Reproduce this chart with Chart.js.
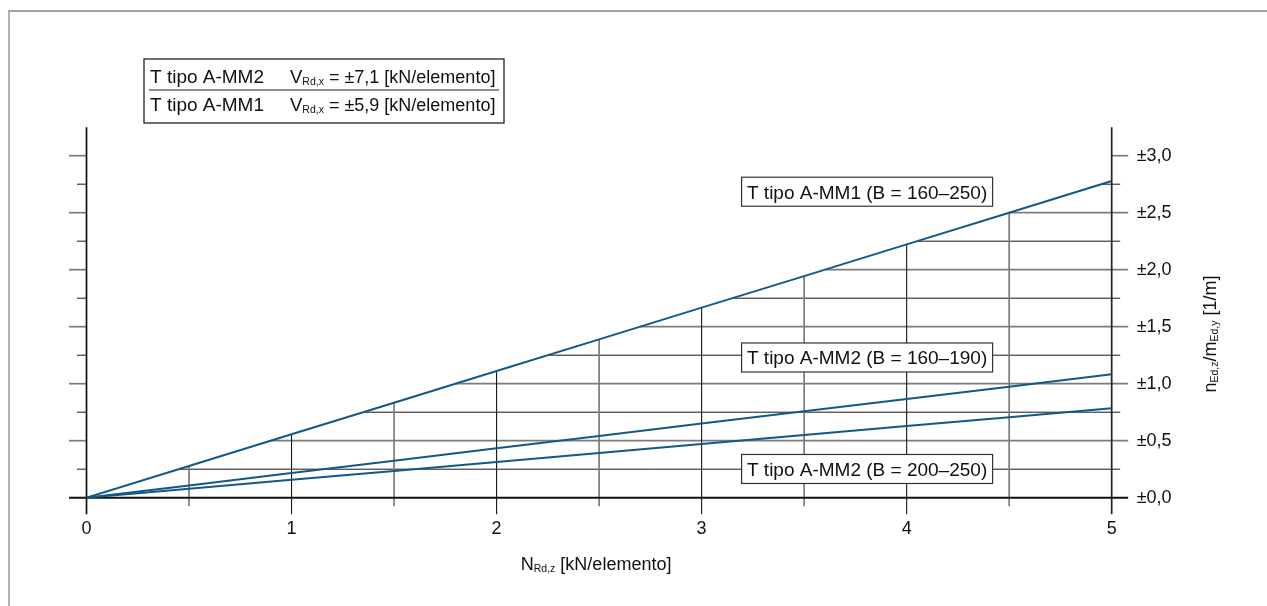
<!DOCTYPE html>
<html><head><meta charset="utf-8">
<script src="https://cdn.jsdelivr.net/npm/chart.js@4.4.1/dist/chart.umd.min.js"></script>
<style>
html,body{margin:0;padding:0;background:#fff;width:1267px;height:606px;overflow:hidden}
#wrap{position:relative;width:1267px;height:606px}
#frame{position:absolute;left:8px;top:10px;width:1300px;height:700px;border-top:2px solid #a3a3a3;border-left:2px solid #b3b3b3}
canvas{position:absolute;left:0;top:0}
</style></head><body>
<div id="wrap"><div id="frame"></div><canvas id="c" width="1267" height="606"></canvas></div>
<script>
// ---- data ----
const xValues = [0, 0.5, 1, 1.5, 2, 2.5, 3, 3.5, 4, 4.5, 5];
const seriesMM1 = [0, 0.278, 0.556, 0.833, 1.111, 1.389, 1.667, 1.944, 2.222, 2.500, 2.778];
const seriesMM2a = [0, 0.108, 0.217, 0.325, 0.433, 0.541, 0.650, 0.758, 0.866, 0.974, 1.083];
const seriesMM2b = [0, 0.078, 0.157, 0.235, 0.314, 0.392, 0.471, 0.549, 0.628, 0.706, 0.785];
const seriesNames = ['T tipo A-MM1 (B = 160–250)', 'T tipo A-MM2 (B = 160–190)', 'T tipo A-MM2 (B = 200–250)'];
const xTickLabels = ['0', '1', '2', '3', '4', '5'];
const yTickLabels = ['±0,0', '±0,5', '±1,0', '±1,5', '±2,0', '±2,5', '±3,0'];
const legendNames = ['T tipo A-MM2', 'T tipo A-MM1'];
const legendValues = ['±7,1', '±5,9'];

// ---- style / layout ----
const FONT = "'Liberation Sans', Arial, sans-serif";
const LINE_COLOR = '#125889';
const GRAY = '#7c7c7c', BLACK = '#151515';
const boxAnchorX = 3.807;
const boxAnchorY = [2.684, 1.23, 0.252];

function mm1CrossX(yv) {
  for (let i = 0; i < xValues.length - 1; i++) {
    const a = seriesMM1[i], b = seriesMM1[i + 1];
    if (yv >= a && yv <= b) {
      const t = (yv - a) / (b - a);
      return xValues[i] + t * (xValues[i + 1] - xValues[i]);
    }
  }
  return null;
}

function runsWidth(ctx, runs) {
  let w = 0;
  for (const r of runs) { ctx.font = r.size + 'px ' + FONT; w += ctx.measureText(r.t).width; }
  return w;
}
function drawRuns(ctx, x, y, runs) {
  let cx = x;
  ctx.textAlign = 'left'; ctx.textBaseline = 'alphabetic';
  for (const r of runs) {
    ctx.font = r.size + 'px ' + FONT;
    ctx.fillText(r.t, cx, y + (r.dy || 0));
    cx += ctx.measureText(r.t).width;
  }
  return cx - x;
}

const gridPlugin = {
  id: 'gridPlugin',
  beforeDatasetsDraw(chart) {
    const ctx = chart.ctx, xs = chart.scales.x, ys = chart.scales.y;
    const X = v => xs.getPixelForValue(v), Y = v => ys.getPixelForValue(v);
    const left = X(0), right = X(5), bottom = Y(0), top = Y(ys.max);
    const line = (x1, y1, x2, y2, c, w) => { ctx.beginPath(); ctx.strokeStyle = c; ctx.lineWidth = w; ctx.moveTo(x1, y1); ctx.lineTo(x2, y2); ctx.stroke(); };
    ctx.save();
    ctx.lineCap = 'butt';
    // horizontal lines every 0.25
    for (let k = 1; k <= 12; k++) {
      const yv = k * 0.25, major = k % 2 === 0, py = Y(yv);
      const c = major ? GRAY : BLACK, w = major ? 1.7 : 1;
      line(left - (major ? 17.5 : 9.5), py, left, py, c, w);
      const cx = mm1CrossX(yv);
      const sx = cx === null ? right : X(cx);
      line(sx, py, right + (major ? 16.5 : 8.5), py, c, w);
    }
    // vertical lines up to MM1 curve
    for (let i = 1; i < xValues.length - 1; i++) {
      const xv = xValues[i], major = Number.isInteger(xv), px = X(xv);
      const c = major ? BLACK : GRAY, w = major ? 1.1 : 1.7;
      line(px, bottom + (major ? 16.5 : 8.5), px, Y(seriesMM1[i]), c, w);
    }
    // axes
    line(left, bottom + 16.5, left, top, '#111', 1.7);
    line(right, bottom + 16.5, right, top, '#222', 1.7);
    line(left - 17.5, bottom, right + 16.5, bottom, '#111', 1.9);
    ctx.restore();
  },
  afterDatasetsDraw(chart) {
    const ctx = chart.ctx, xs = chart.scales.x, ys = chart.scales.y;
    ctx.save();
    const w = 251, h = 29;
    seriesNames.forEach((name, i) => {
      const cx = xs.getPixelForValue(boxAnchorX), cy = ys.getPixelForValue(boxAnchorY[i]);
      ctx.fillStyle = '#fff';
      ctx.fillRect(cx - w / 2, cy - h / 2, w, h);
      ctx.strokeStyle = '#333'; ctx.lineWidth = 1.2;
      ctx.strokeRect(cx - w / 2, cy - h / 2, w, h);
      ctx.fillStyle = '#111';
      ctx.font = '19px ' + FONT; ctx.textAlign = 'center'; ctx.textBaseline = 'alphabetic';
      ctx.fillText(name, cx, cy + 7);
    });
    ctx.restore();
  },
  afterDraw(chart) {
    const ctx = chart.ctx, ca = chart.chartArea;
    ctx.save();
    ctx.fillStyle = '#111';
    // x axis title
    const xr = [{t: 'N', size: 18}, {t: 'Rd,z', size: 10.5, dy: 2}, {t: ' [kN/elemento]', size: 18}];
    const xw = runsWidth(ctx, xr);
    drawRuns(ctx, (ca.left + ca.right) / 2 - 3 - xw / 2, 570, xr);
    // y axis title (rotated)
    const yr = [{t: 'n', size: 18}, {t: 'Ed,z', size: 10.5, dy: 2}, {t: '/m', size: 18}, {t: 'Ed,y', size: 10.5, dy: 2}, {t: ' [1/m]', size: 18}];
    const yw = runsWidth(ctx, yr);
    ctx.save();
    ctx.translate(1209, 334);
    ctx.rotate(-Math.PI / 2);
    drawRuns(ctx, -yw / 2, 6.5, yr);
    ctx.restore();
    // legend table
    const bx = 144, by = 59, bw = 360, bh = 64;
    ctx.strokeStyle = '#222'; ctx.lineWidth = 1.3;
    ctx.strokeRect(bx, by, bw, bh);
    ctx.beginPath(); ctx.moveTo(bx + 5, by + 31); ctx.lineTo(bx + bw - 5, by + 31); ctx.lineWidth = 1.2; ctx.stroke();
    const baselines = [82.5, 111];
    legendNames.forEach((n, i) => {
      drawRuns(ctx, bx + 6, baselines[i], [{t: n, size: 19}]);
      drawRuns(ctx, 290, baselines[i], [{t: 'V', size: 18.5}, {t: 'Rd,x', size: 10.5, dy: 2}, {t: ' = ' + legendValues[i] + ' [kN/elemento]', size: 18}]);
    });
    ctx.restore();
  }
};

const mk = arr => xValues.map((x, i) => ({x: x, y: arr[i]}));

new Chart(document.getElementById('c'), {
  type: 'line',
  data: {
    datasets: [
      {label: seriesNames[0], data: mk(seriesMM1)},
      {label: seriesNames[1], data: mk(seriesMM2a)},
      {label: seriesNames[2], data: mk(seriesMM2b)}
    ].map(d => Object.assign(d, {borderColor: LINE_COLOR, borderWidth: 2, pointRadius: 0, tension: 0, fill: false}))
  },
  options: {
    responsive: false,
    animation: false,
    layout: {padding: {left: 86.5, top: 127.2, right: 0, bottom: 0}},
    plugins: {legend: {display: false}, tooltip: {enabled: false}},
    scales: {
      x: {
        type: 'linear', min: 0, max: 5, position: 'bottom',
        grid: {display: false, drawTicks: false}, border: {display: false},
        ticks: {stepSize: 0.5, padding: 21, color: '#111', font: {family: FONT, size: 18},
          autoSkip: false, maxRotation: 0,
          callback: v => Number.isInteger(v) ? xTickLabels[v] : ''},
        afterFit: s => { s.height = 108.3; }
      },
      y: {
        type: 'linear', min: 0, max: 3.25, position: 'right',
        grid: {display: false, drawTicks: false}, border: {display: false},
        ticks: {stepSize: 0.25, padding: 25, color: '#111', font: {family: FONT, size: 18},
          autoSkip: false,
          callback: v => { const k = Math.round(v * 2); return Math.abs(v * 2 - k) < 1e-6 && yTickLabels[k] ? yTickLabels[k] : ''; }},
        afterFit: s => { s.width = 155.3; }
      }
    }
  },
  plugins: [gridPlugin]
});
</script>
</body></html>
